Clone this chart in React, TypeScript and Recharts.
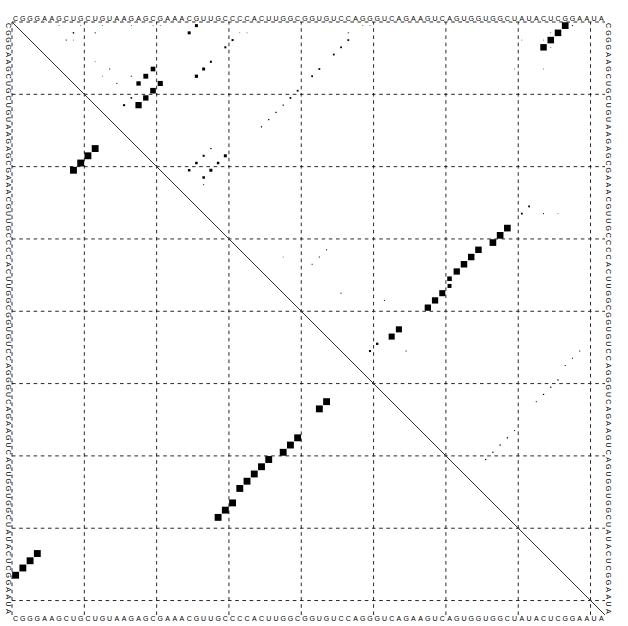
import { ScatterChart, Scatter, XAxis, YAxis, ReferenceLine } from 'recharts';

// RNA sequence shown along all four sides
const sequence = 'CGGGAAGCUGCUGUAAGAGCGAAACGUUGCCCCACUUGGCGGUGUCCAGGGUCAGAAGUCAGUGGUGGCUAUACUCGGAAUA';
const positions = sequence.split('').map((_, k) => k + 1);
const gridLines = [0.5, 10.5, 20.5, 30.5, 40.5, 50.5, 60.5, 70.5, 80.5];

// MFE structure (lower-left triangle)
const mfePairs: [number, number][] = [
  [1, 77], [2, 76], [3, 75], [4, 74],
  [9, 21], [10, 20], [11, 19], [12, 18],
  [29, 69], [30, 68], [31, 67], [32, 65], [33, 64], [34, 63], [35, 62], [36, 61],
  [38, 60], [39, 59], [40, 58], [43, 54], [44, 53],
];

// base pair probabilities (upper-right triangle): [i, j, p]
const pairProbs: [number, number, number][] = [
  [1, 77, 0.85], [2, 76, 0.82], [3, 75, 0.82], [4, 74, 0.8],
  [7, 20, 0.42], [8, 19, 0.45], [9, 18, 0.36],
  [9, 21, 0.5], [10, 20, 0.6], [11, 19, 0.55], [12, 18, 0.75],
  [11, 17, 0.05], [12, 16, 0.08], [7, 14, 0.02], [8, 17, 0.02], [9, 15, 0.02],
  [29, 69, 0.85], [30, 68, 0.85], [31, 67, 0.85], [32, 65, 0.8], [33, 64, 0.8],
  [34, 63, 0.8], [35, 62, 0.75], [36, 61, 0.4], [37, 61, 0.3], [38, 60, 0.7],
  [39, 59, 0.75], [40, 58, 0.75], [43, 54, 0.7], [44, 53, 0.7],
  [45, 51, 0.1], [46, 50, 0.08], [46, 55, 0.02], [39, 52, 0.02], [38, 46, 0.02],
  [32, 44, 0.02], [33, 43, 0.02], [34, 42, 0.02], [33, 38, 0.01],
  [1, 26, 0.17], [2, 25, 0.17], [7, 27, 0.17], [8, 26, 0.2], [6, 28, 0.08],
  [4, 30, 0.08], [3, 31, 0.08],
  [19, 30, 0.17], [20, 29, 0.12], [21, 28, 0.17], [22, 27, 0.12],
  [20, 26, 0.12], [21, 25, 0.12], [19, 27, 0.08], [18, 28, 0.03], [23, 27, 0.02],
  [3, 47, 0.06], [4, 46, 0.06], [5, 45, 0.06], [7, 43, 0.06], [8, 42, 0.06],
  [10, 40, 0.06], [11, 39, 0.06], [12, 38, 0.03], [13, 37, 0.03], [14, 36, 0.03], [15, 35, 0.03],
  [1, 7, 0.01], [1, 10, 0.01], [2, 9, 0.04], [3, 8, 0.02], [3, 9, 0.01], [2, 12, 0.02],
  [6, 12, 0.01], [8, 13, 0.01], [1, 13, 0.01], [1, 17, 0.01], [1, 20, 0.01], [1, 21, 0.01],
  [2, 32, 0.01], [2, 33, 0.01], [1, 49, 0.01], [1, 50, 0.01], [2, 47, 0.02],
  [1, 78, 0.02], [2, 75, 0.01], [4, 75, 0.01], [3, 74, 0.01], [3, 71, 0.01], [7, 70, 0.01], [7, 74, 0.01],
  [26, 72, 0.06], [27, 71, 0.06], [27, 74, 0.02], [27, 76, 0.01],
  [61, 66, 0.03], [60, 67, 0.03], [59, 68, 0.03], [58, 69, 0.03], [57, 70, 0.02],
  [53, 73, 0.02], [52, 74, 0.03], [51, 75, 0.03], [50, 76, 0.03], [48, 77, 0.02], [47, 78, 0.02], [46, 79, 0.02],
];

const CELL = 593 / sequence.length;

const upperData = pairProbs.map(([i, j, p]) => ({ x: j, y: i, s: Math.sqrt(p) }));
const lowerData = mfePairs.map(([i, j]) => ({ x: i, y: j, s: 0.95 }));

const Box = (props: any) => {
  const { cx, cy, payload } = props;
  const side = payload.s * CELL;
  return <rect x={cx - side / 2} y={cy - side / 2} width={side} height={side} fill="#000" />;
};

const font = { fontSize: 7, fontFamily: 'Liberation Sans, Arial, sans-serif', fill: '#000' };
const letter = (v: number) => sequence[v - 1];

const TopTick = ({ x, y, payload }: any) => (
  <text x={x} y={y - 1.5} textAnchor="middle" {...font}>{letter(payload.value)}</text>
);
const BottomTick = ({ x, y, payload }: any) => (
  <text x={x} y={y + 6} textAnchor="middle" {...font}>{letter(payload.value)}</text>
);
const LeftTick = ({ x, y, payload }: any) => (
  <text transform={`translate(${x - 6.5},${y}) rotate(90)`} textAnchor="middle" {...font}>{letter(payload.value)}</text>
);
const RightTick = ({ x, y, payload }: any) => (
  <text transform={`translate(${x + 1.4},${y}) rotate(90)`} textAnchor="middle" {...font}>{letter(payload.value)}</text>
);

const axisCommon = {
  type: 'number' as const,
  domain: [0.5, sequence.length + 0.5],
  ticks: positions,
  interval: 0,
  axisLine: false,
  tickLine: false,
  tickSize: 0,
  tickMargin: 0,
  allowDataOverflow: true,
};

export default function App() {
  const n = sequence.length;
  return (
    <div style={{ background: '#fff', width: 628, height: 626 }}>
      <style>{'body{margin:0}'}</style>
      <ScatterChart width={628} height={626} margin={{ top: 10, left: 0, right: 0, bottom: 0 }}>
        <XAxis xAxisId="bottom" orientation="bottom" height={11} dataKey="x" tick={<BottomTick />} {...axisCommon} />
        <XAxis xAxisId="top" orientation="top" height={12} dataKey="x" tick={<TopTick />} {...axisCommon} />
        <YAxis yAxisId="left" orientation="left" width={12} dataKey="y" reversed tick={<LeftTick />} {...axisCommon} />
        <YAxis yAxisId="right" orientation="right" width={23} dataKey="y" reversed tick={<RightTick />} {...axisCommon} />
        {gridLines.map((g) => (
          <ReferenceLine key={`v${g}`} x={g} xAxisId="bottom" yAxisId="left" stroke="#111" strokeWidth={0.9} strokeDasharray="3.6 3.6" />
        ))}
        {gridLines.map((g) => (
          <ReferenceLine key={`h${g}`} y={g} xAxisId="bottom" yAxisId="left" stroke="#111" strokeWidth={0.9} strokeDasharray="3.6 3.6" />
        ))}
        <ReferenceLine
          xAxisId="bottom"
          yAxisId="left"
          segment={[{ x: 0.5, y: 0.5 }, { x: n + 0.5, y: n + 0.5 }]}
          stroke="#333"
          strokeWidth={1}
        />
        <Scatter data={upperData} xAxisId="bottom" yAxisId="left" shape={<Box />} isAnimationActive={false} />
        <Scatter data={lowerData} xAxisId="bottom" yAxisId="left" shape={<Box />} isAnimationActive={false} />
      </ScatterChart>
    </div>
  );
}
